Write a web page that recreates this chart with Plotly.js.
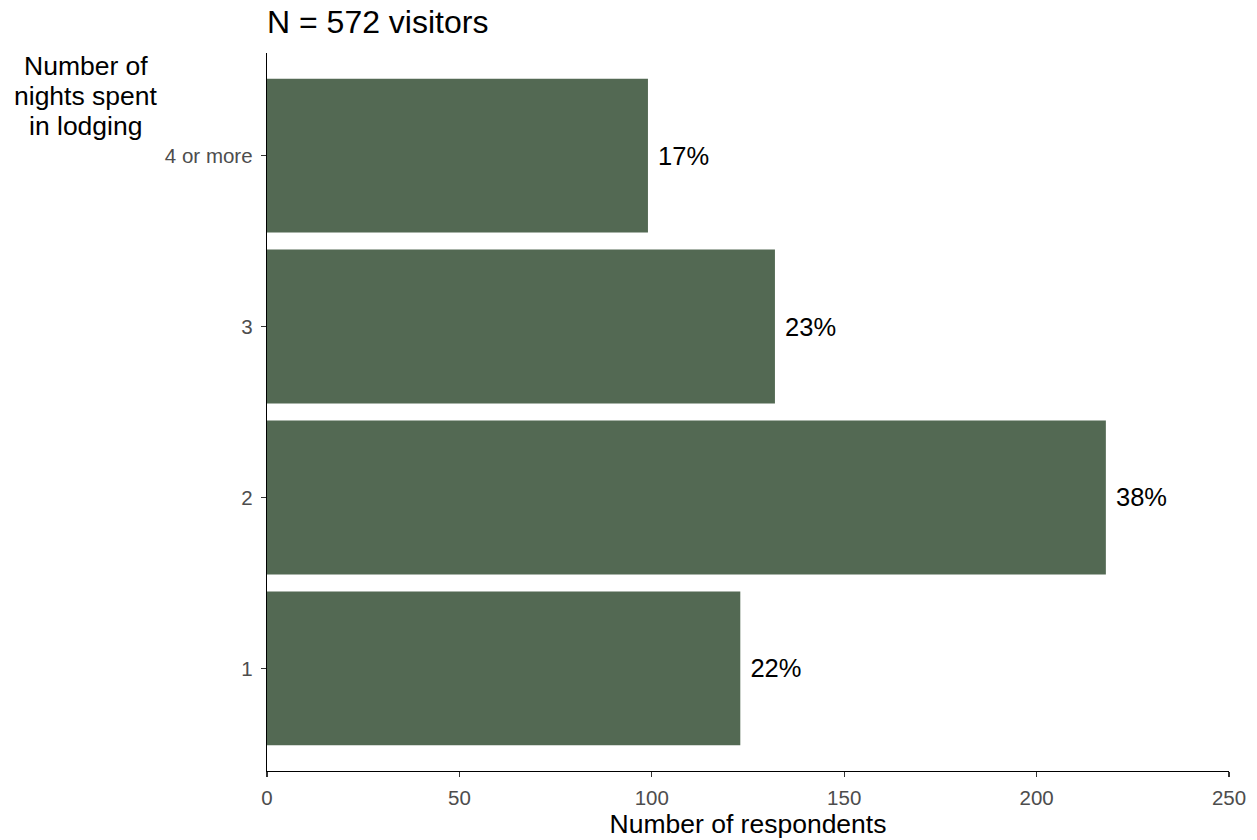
<!DOCTYPE html>
<html>
<head>
<meta charset="utf-8">
<script src="https://cdn.plot.ly/plotly-3.0.1.min.js"></script>
<style>html,body{margin:0;padding:0;background:#fff;}#chart{width:1257px;height:840px;}</style>
</head>
<body>
<div id="chart"></div>
<script>
const categories = ["1", "2", "3", "4 or more"];
const respondents = [123, 218, 132, 99];
const percentLabels = ["22%", "38%", "23%", "17%"];
const xTicks = [0, 50, 100, 150, 200, 250];
const yTitleLines = ["Number of", "nights spent", "in lodging"];

const trace = {
  type: "bar",
  orientation: "h",
  y: categories,
  x: respondents,
  width: 0.9,
  marker: {color: "#536953", line: {width: 0}},
  text: percentLabels.map(t => " " + t),
  textposition: "outside",
  cliponaxis: false,
  textfont: {family: "Arial, Liberation Sans, sans-serif", size: 25.5, color: "#000"},
  hoverinfo: "none"
};

const yTitleY = [0.982, 0.940, 0.898];

const layout = {
  width: 1257, height: 840,
  margin: {l: 267, r: 28, t: 53, b: 69},
  paper_bgcolor: "#fff", plot_bgcolor: "#fff",
  font: {family: "Arial, Liberation Sans, sans-serif"},
  showlegend: false,
  title: {text: "N = 572 visitors", x: 0, xanchor: "left", xref: "paper", y: 0.974, yanchor: "middle",
    font: {size: 32, color: "#000"}},
  xaxis: {
    range: [0, 250], tickvals: xTicks, ticktext: xTicks.map(String),
    showgrid: false, zeroline: false, showline: true, linecolor: "#000", linewidth: 1.3,
    ticks: "outside", ticklen: 5, tickcolor: "#333", tickwidth: 1.3,
    ticklabelstandoff: 3,
    tickfont: {size: 20.5, color: "#4d4d4d"},
    title: {text: "Number of respondents", font: {size: 26.5, color: "#000"}, standoff: 6}
  },
  yaxis: {
    type: "category", categoryorder: "array", categoryarray: categories,
    range: [-0.6, 3.6],
    showgrid: false, zeroline: false, showline: true, linecolor: "#000", linewidth: 1.3,
    ticks: "outside", ticklen: 5, tickcolor: "#333", tickwidth: 1.3,
    ticklabelstandoff: 4,
    tickfont: {size: 20.5, color: "#4d4d4d"}
  },
  annotations: yTitleLines.map((line, i) => ({
    text: line,
    xref: "paper", yref: "paper", x: -0.1882, y: yTitleY[i], xanchor: "center", yanchor: "middle",
    showarrow: false, align: "center",
    font: {size: 26.5, color: "#000"}
  }))
};

Plotly.newPlot("chart", [trace], layout, {displayModeBar: false, staticPlot: true});
</script>
</body>
</html>
